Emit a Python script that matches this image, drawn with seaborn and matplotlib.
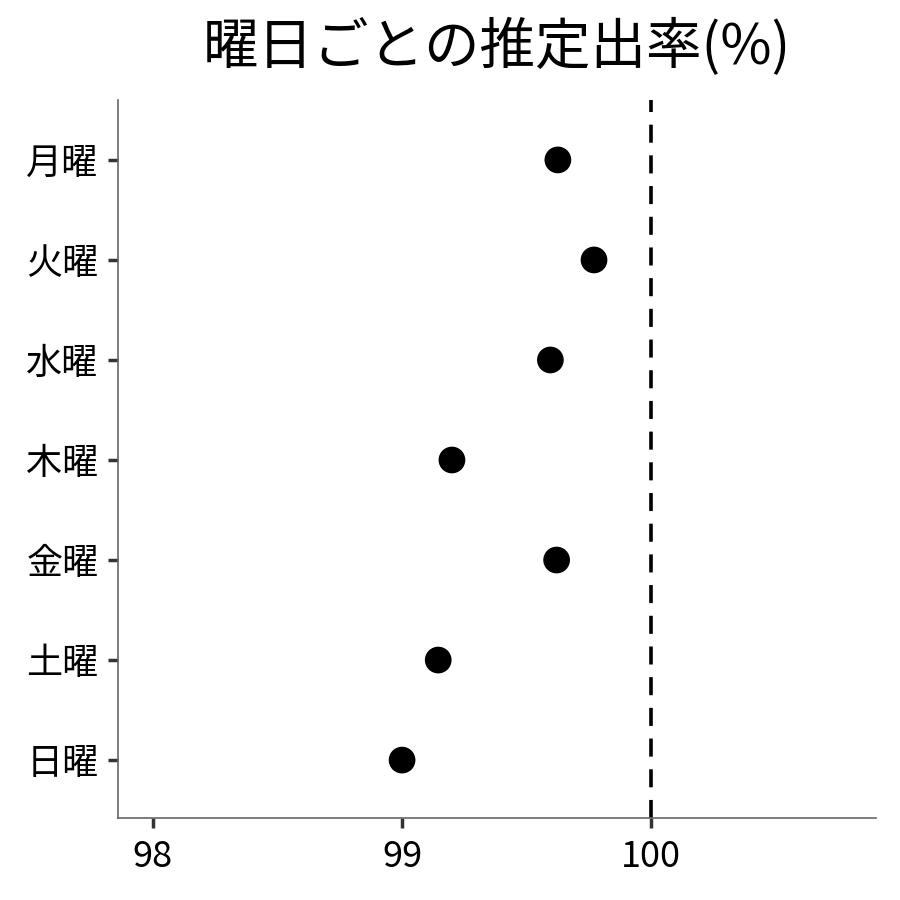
import pandas as pd
import matplotlib.pyplot as plt
import seaborn as sns

days = ["月曜", "火曜", "水曜", "木曜", "金曜", "土曜", "日曜"]
rates = [99.625, 99.77, 99.595, 99.20, 99.62, 99.145, 99.00]
xticks = [98, 99, 100]

df = pd.DataFrame({"day": days, "rate": rates})

sns.set_style("ticks")
plt.rcParams['font.family'] = ['Noto Sans CJK JP', 'DejaVu Sans']
plt.rcParams['text.color'] = 'black'

fig = plt.figure(figsize=(9, 9), dpi=100)
ax = fig.add_axes([0.131, 0.091, 0.842, 0.798])

sns.scatterplot(data=df, x="rate", y="day", color="black", s=370, edgecolor="none", ax=ax)
ax.axvline(100, color="black", linestyle=(0, (5, 3.5)), linewidth=2.6)

ax.set_xlim(97.86, 100.9)
ax.set_ylim(6.58, -0.6)
ax.set_xticks(xticks)
ax.set_xticklabels([str(t) for t in xticks])
ax.set_xlabel("")
ax.set_ylabel("")
ax.set_title("曜日ごとの推定出率(%)", fontsize=40, pad=26, color="black")
ax.tick_params(axis="both", labelsize=26, length=7, width=2.5, color="#333333",
               labelcolor="black")
ax.tick_params(axis="y", pad=7)
ax.tick_params(axis="x", pad=8)

sns.despine(ax=ax)
for side in ["left", "bottom"]:
    ax.spines[side].set_color("#666666")
    ax.spines[side].set_linewidth(1.2)

plt.savefig("out.png", dpi=100)
